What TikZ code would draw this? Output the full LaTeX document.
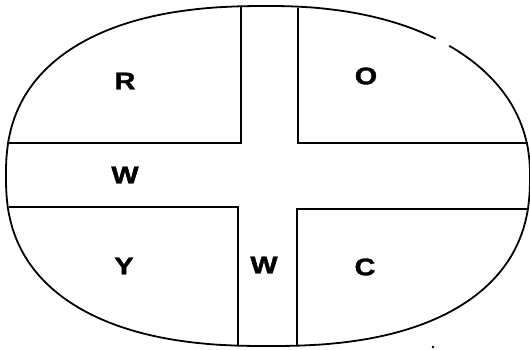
\documentclass[tikz,border=0pt]{standalone}
\usepackage{fontspec}
\setmainfont{Liberation Sans}
\newfontfamily\lblfont[FakeBold=1.5]{Liberation Sans Bold}
\begin{document}
\begin{tikzpicture}[x=1pt,y=-1pt,
  outline/.style={line width=1.8pt,line join=round},
  divider/.style={line width=1.1pt},
  lbl/.style={font=\fontsize{24}{24}\selectfont\lblfont,xscale=1.2,inner sep=0pt}]
\useasboundingbox (0,0) rectangle (530,349);
% oval outline (superellipse) with small gap at upper right
\draw[outline] plot[domain=52.3:90,samples=60]
  ({268+262*pow(abs(cos(\x))+0.00001,0.909)},
   {176-170*pow(abs(sin(\x))+0.00001,0.909)})
  -- plot[domain=90:360,samples=320]
  ({268+262*(cos(\x)<0?-1:1)*pow(abs(cos(\x))+0.00001,0.8333)},
   {176-170*(sin(\x)<0?-1:1)*pow(abs(sin(\x))+0.00001,0.8333)})
  -- plot[domain=360:408.2,samples=60]
  ({268+262*pow(abs(cos(\x))+0.00001,0.909)},
   {176-170*pow(abs(sin(\x))+0.00001,0.909)});
% cross strips
\draw[divider] (241,7) -- (241,143) -- (9,143);
\draw[divider] (298,7.5) -- (298,143) -- (528,143);
\draw[divider] (9,207) -- (238,207) -- (238,345.5);
\draw[divider] (528,209) -- (297,209) -- (297,345.5);
% labels
\node[lbl] (r) at (125,81) {R};
\node[lbl] (o) at (366,76) {O};
\node[lbl] (w1) at (125,175) {W};
\node[lbl] (y) at (124,266) {Y};
\node[lbl] (w2) at (264,265) {W};
\node[lbl] (c) at (365,267) {C};
\fill (433,347) circle (1.3);
\end{tikzpicture}
\end{document}
